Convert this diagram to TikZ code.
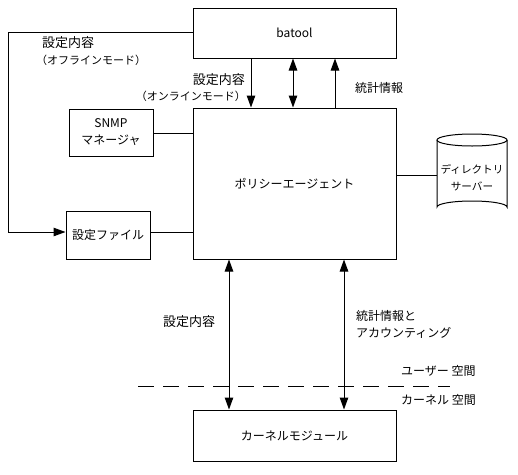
\documentclass[tikz,border=0pt]{standalone}
\usepackage{fontspec}
\setmainfont{Noto Sans CJK JP}
\usetikzlibrary{arrows.meta,calc}
\begin{document}
\begin{tikzpicture}[x=1pt,y=-1pt,
  box/.style={draw,line width=1pt,inner sep=0pt,align=center,font=\fontsize{12}{17}\selectfont},
  lbl/.style={inner sep=0pt,align=left,font=\fontsize{12}{17}\selectfont},
  arr/.style={line width=1pt,-{Triangle[length=12pt,width=8.5pt]}},
  darr/.style={line width=1pt,{Triangle[length=12pt,width=8.5pt]}-{Triangle[length=12pt,width=8.5pt]}},
  ln/.style={line width=1pt}]
\useasboundingbox (0,0) rectangle (518,474);
% boxes
\node[box,minimum width=203pt,minimum height=50pt] (batool) at (294.5,33) {batool};
\node[box,minimum width=203pt,minimum height=151pt] (agent) at (294.5,183.5) {ポリシーエージェント};
\node[box,minimum width=84pt,minimum height=47pt] (snmp) at (111,132.5) {SNMP\\マネージャ};
\node[box,minimum width=84pt,minimum height=48pt] (file) at (108,235) {設定ファイル};
\node[box,minimum width=203pt,minimum height=51pt] (kernel) at (294.5,435.5) {カーネルモジュール};
% cylinder
\draw[ln] (437,140) -- (437,207) arc[start angle=180,end angle=360,x radius=35,y radius=6] -- (507,140);
\draw[ln] (472,140) ellipse[x radius=35,y radius=6];
\node[inner sep=0pt,align=center,font=\fontsize{10.6}{17}\selectfont] (dir) at (472,178) {ディレクトリ\\サーバー};
\coordinate (dirw) at (437,175);
% coordinates
\coordinate (c1) at (251,0);
\coordinate (c2) at (293,0);
\coordinate (c3) at (335,0);
\coordinate (c4) at (229,0);
\coordinate (c5) at (344,0);
\coordinate (lp) at (8,0);
\coordinate (lt) at (0,32);
\coordinate (snmpy) at (0,133);
\coordinate (filey) at (0,232);
% connectors
\draw[arr] (batool.south -| c1) -- (agent.north -| c1);
\draw[darr] (batool.south -| c2) -- (agent.north -| c2);
\draw[arr] (agent.north -| c3) -- (batool.south -| c3);
\draw[darr] (agent.south -| c4) -- (kernel.north -| c4);
\draw[darr] (agent.south -| c5) -- (kernel.north -| c5);
\draw[ln] (snmp.east |- snmpy) -- (agent.west |- snmpy);
\draw[ln] (file.east |- filey) -- (agent.west |- filey);
\draw[ln] (agent.east |- dirw) -- (dirw);
\draw[arr] (batool.west |- lt) -- (lp |- lt) -- (lp |- filey) -- (file.west |- filey);
% dashed line
\coordinate (d1) at (138,386);
\coordinate (d2) at (450,386);
\draw[line width=1pt,dash pattern=on 16pt off 9pt] (d1) -- (d2);
% labels
\node[lbl,anchor=west,font=\fontsize{13}{17}\selectfont] (off1) at (42,43) {設定内容};
\node[lbl,anchor=west,font=\fontsize{11}{17}\selectfont] (off2) at (36,60) {（オフラインモード）};
\node[lbl,anchor=east,font=\fontsize{13}{17}\selectfont] (on1) at (245,80) {設定内容};
\node[lbl,anchor=east,font=\fontsize{11}{17}\selectfont] (on2) at (246,96) {（オンラインモード）};
\node[lbl,anchor=west] (st1) at (355,88) {統計情報};
\node[lbl,anchor=west,font=\fontsize{13}{17}\selectfont] (cfg) at (163,322) {設定内容};
\node[lbl,anchor=north west] (st2) at (356,310) {統計情報と\\アカウンティング};
\node[lbl,anchor=west] (us) at (401,371) {ユーザー 空間};
\node[lbl,anchor=west] (ks) at (401,400) {カーネル 空間};
\end{tikzpicture}
\end{document}
